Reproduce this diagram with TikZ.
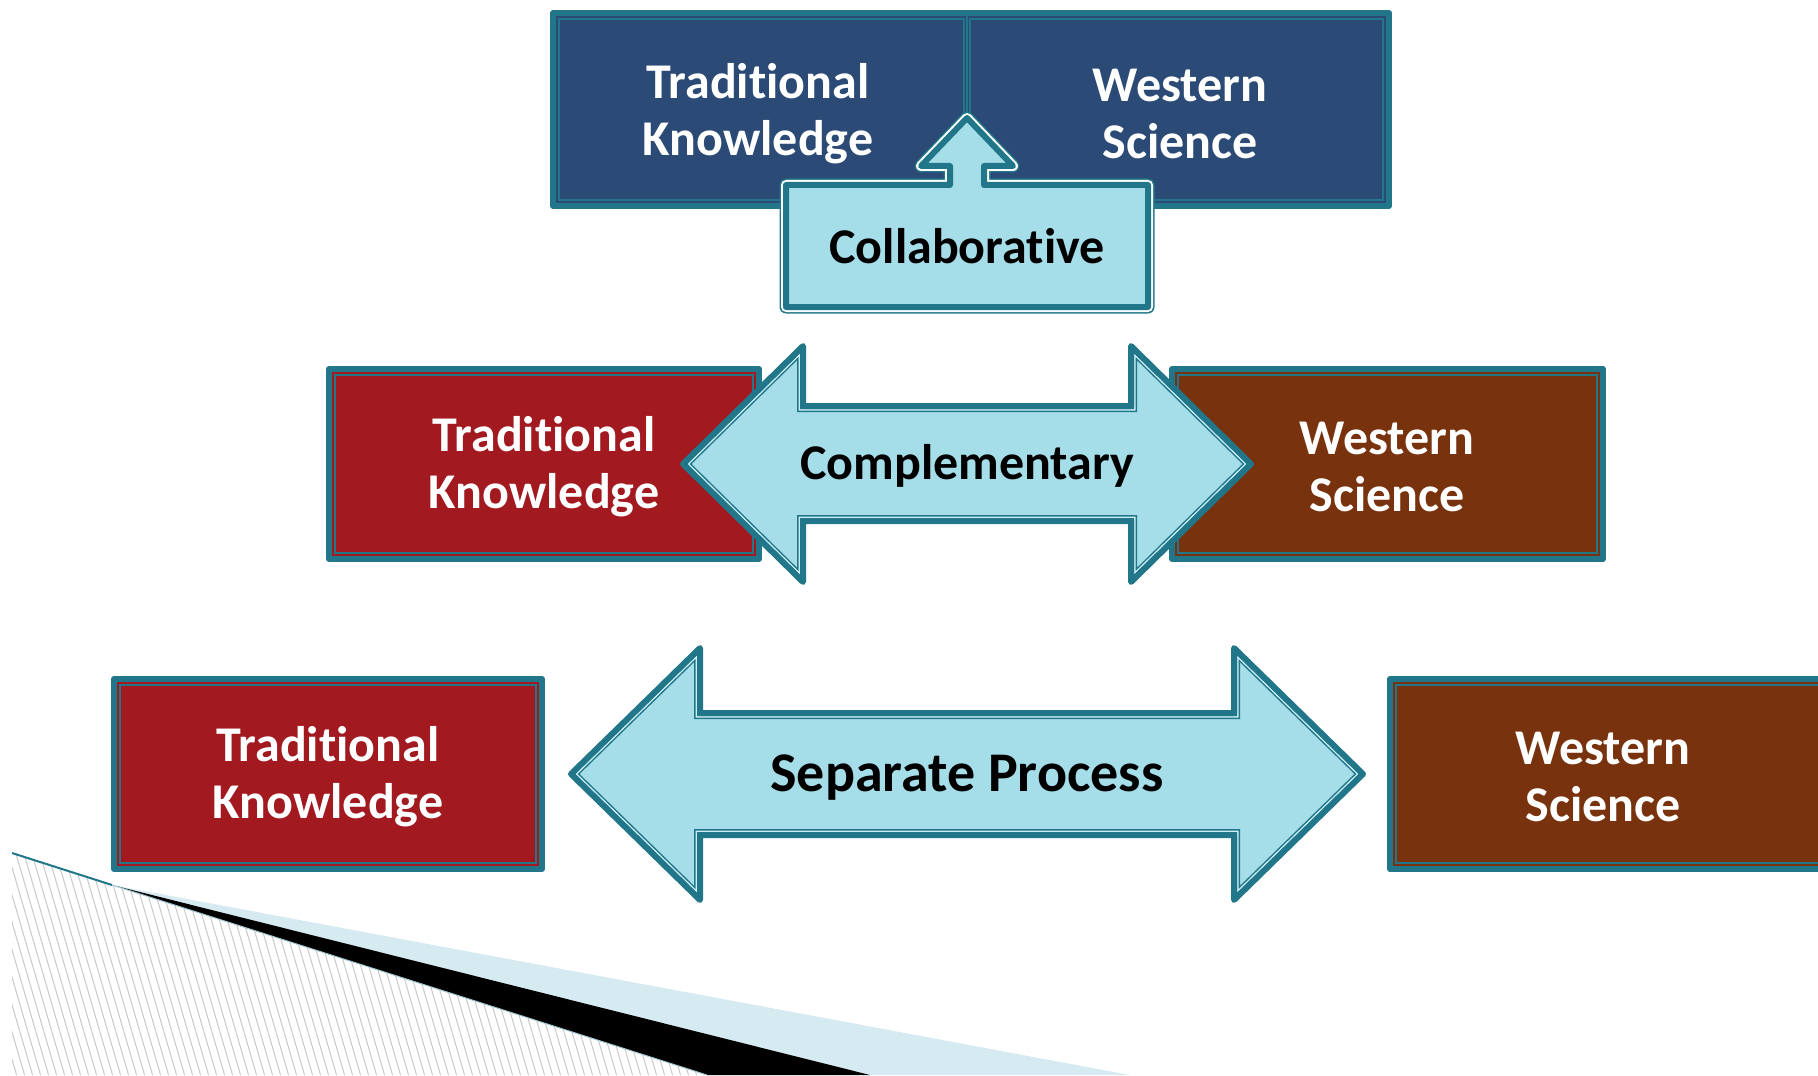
\documentclass[tikz,border=0pt]{standalone}
\usepackage{fontspec}
\setmainfont[RawFeature={-liga;-clig;-dlig;-calt}]{Carlito}
\definecolor{tealc}{RGB}{33,119,137}
\definecolor{bluefill}{RGB}{43,74,117}
\definecolor{redfill}{RGB}{162,25,32}
\definecolor{brownfill}{RGB}{120,50,13}
\definecolor{arrowfill}{RGB}{165,221,233}
\definecolor{lightline}{RGB}{205,238,245}
\definecolor{wedgeblue}{RGB}{214,234,242}
\definecolor{hatchc}{RGB}{200,200,200}
\newcommand{\arrowshape}[2]{%
  \fill[#2] #1;
  \begin{scope}
    \clip #1;
    \draw[tealc, line width=6pt] #1;
    \draw[lightline, line width=4.5pt] #1;
    \draw[tealc, line width=3pt] #1;
  \end{scope}
  \draw[tealc, line width=3pt, line join=round] #1;
}
\newcommand{\fbshape}[5]{%
  \fill[#5] (#1,#2) rectangle (#3,#4);
  \draw[tealc, line width=0.75pt] (#1+6,#2+6) rectangle (#3-6,#4-6);
  \draw[tealc, line width=3pt, line join=round] (#1,#2) rectangle (#3,#4);
}
\newcommand{\TKtext}{Tradit\kern0pt ional\\Knowledge}
\begin{document}
\begin{tikzpicture}[x=0.5pt,y=-0.5pt,
  lbl/.style={font=\bfseries\fontsize{25}{28.5}\selectfont, align=center, inner sep=0pt},
  wlbl/.style={lbl, text=white},
  blbl/.style={lbl, text=black}]
\path[use as bounding box] (0,0) rectangle (1818,1075);
\clip (0,0) rectangle (1818,1075);

% decorative bottom-left
\begin{scope}
  \clip (12,853) -- (707,1075) -- (12,1075) -- cycle;
  \foreach \x in {-100,-92,...,720} \draw[hatchc, line width=0.5pt] (\x,840) -- (\x+70,1080);
\end{scope}
\fill[wedgeblue] (112,885) -- (1130,1075) -- (870,1075) -- cycle;
\fill[black] (112,885) -- (870,1075) -- (707,1075) -- cycle;
\draw[tealc, line width=1pt] (12,853) -- (112,885);
\draw[wedgeblue!70!tealc, line width=0.5pt] (112,885) -- (707,1075);

% top row
\fill[bluefill] (553,13) rectangle (1389,206);
\draw[tealc, line width=0.75pt] (559,19) rectangle (964,200);
\draw[tealc, line width=0.75pt] (970,19) rectangle (1383,200);
\draw[tealc, line width=1.2pt] (967,13) -- (967,206);
\draw[tealc, line width=3pt, line join=round] (553,13) rectangle (1389,206);
\node[wlbl] (tk1) at (758,114) {\TKtext};
\node[wlbl] (ws1) at (1180,114) {Western\\Science};

% collaborative callout
\def\callout{(786,307) -- (786,185) -- (950,185) -- (950,166) -- (921,166) -- (967,118) -- (1013,166) -- (984,166) -- (984,185) -- (1148,185) -- (1148,307) -- cycle}
\draw[tealc, line width=6.5pt, line join=round] \callout;
\draw[white, line width=5pt, line join=round] \callout;
\fill[arrowfill] \callout;
\draw[tealc, line width=3pt, line join=round] \callout;
\node[blbl] (col) at (967,246) {Collaborat\kern0pt ive};

% middle row
\fbshape{329}{369}{759}{559}{redfill}
\fbshape{1172}{369}{1603}{559}{brownfill}
\arrowshape{(683,464) -- (803,346) -- (803,406) -- (1131,406) -- (1131,346) -- (1251,464) -- (1131,582) -- (1131,521) -- (803,521) -- (803,582) -- cycle}{arrowfill}
\node[wlbl] (tk2) at (544,467) {\TKtext};
\node[wlbl] (ws2) at (1387,467) {Western\\Science};
\node[blbl] (comp) at (967,466) {Complementary};

% bottom row
\fbshape{114}{679}{542}{869}{redfill}
\fbshape{1390}{679}{1840}{869}{brownfill}
\arrowshape{(571,774) -- (700,648) -- (700,713) -- (1234,713) -- (1234,648) -- (1363,774) -- (1234,900) -- (1234,835) -- (700,835) -- (700,900) -- cycle}{arrowfill}
\node[wlbl] (tk3) at (328,777) {\TKtext};
\node[wlbl] (ws3) at (1603,777) {Western\\Science};
\node[blbl, font=\bfseries\fontsize{28}{32}\selectfont] (sep) at (967,778) {Separate Process};
\end{tikzpicture}
\end{document}
